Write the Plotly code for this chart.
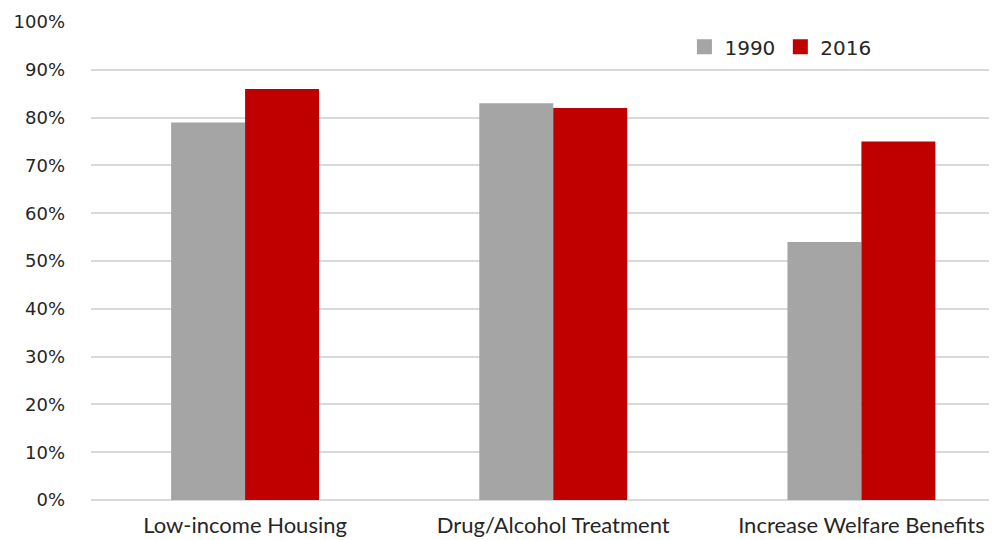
import plotly.graph_objects as go

categories = ["Low-income Housing", "Drug/Alcohol Treatment", "Increase Welfare Benefits"]
values_1990 = [0.79, 0.83, 0.54]
values_2016 = [0.86, 0.82, 0.75]
series_names = ["1990", "2016"]
series_colors = ["#a5a5a5", "#c00000"]
y_ticks = [0, 0.1, 0.2, 0.3, 0.4, 0.5, 0.6, 0.7, 0.8, 0.9, 1.0]
y_tick_labels = ["0%", "10%", "20%", "30%", "40%", "50%", "60%", "70%", "80%", "90%", "100%"]

fig = go.Figure()
for name, vals, col in zip(series_names, [values_1990, values_2016], series_colors):
    fig.add_trace(go.Bar(name=name, x=categories, y=vals, marker_color=col,
                         marker_line_width=0, showlegend=False))
# legend entries with larger square swatches
for name, col in zip(series_names, series_colors):
    fig.add_trace(go.Scatter(name=name, x=[None], y=[None], mode="markers",
                             marker=dict(symbol="square", size=15, color=col),
                             showlegend=True))

fig.update_layout(
    width=997, height=540,
    margin=dict(l=83, r=8, t=14, b=48, autoexpand=False),
    paper_bgcolor="white", plot_bgcolor="white",
    barmode="group", bargap=0.52, bargroupgap=0,
    font=dict(family="DejaVu Sans", color="#333333"),
    legend=dict(orientation="h", x=0.655, y=0.948, xanchor="left", yanchor="middle",
                font=dict(size=20, family="DejaVu Sans", color="#262626"),
                itemwidth=30, bgcolor="rgba(0,0,0,0)", traceorder="normal"),
    xaxis=dict(range=[-0.5, 2.44], showgrid=False, showline=False, ticks="",
               automargin=False, ticklabelstandoff=10,
               tickfont=dict(size=22, family="Lato", color="#262626")),
    yaxis=dict(range=[0, 1.0], tickvals=y_ticks, ticktext=y_tick_labels,
               showgrid=True, gridcolor="#d9d9d9", gridwidth=1.5,
               zeroline=True, zerolinecolor="#d9d9d9", zerolinewidth=1.5,
               showline=False, ticks="", ticklabelstandoff=25, automargin=False,
               tickfont=dict(size=18, family="DejaVu Sans", color="#262626")),
)

fig.write_html("out.html")
